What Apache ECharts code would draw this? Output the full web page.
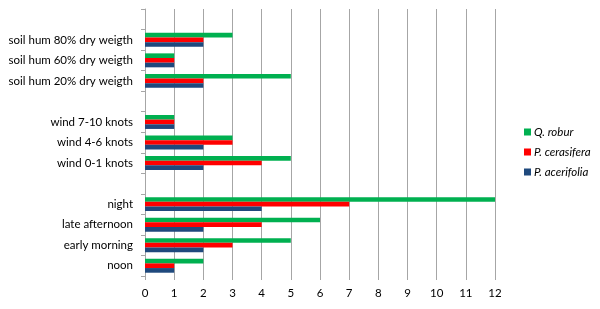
<!DOCTYPE html>
<html><head><meta charset="utf-8">
<script src="https://cdn.jsdelivr.net/npm/echarts@6/dist/echarts.min.js"></script>
<style>html,body{margin:0;padding:0;background:#fff}#c{width:600px;height:309px}</style>
</head><body><div id="c"></div>
<script>
const categories = ['noon','early morning','late afternoon','night','','wind 0-1 knots','wind 4-6 knots','wind 7-10 knots',' ','soil hum 20% dry weigth','soil hum 60% dry weigth','soil hum 80% dry weigth','  '];
const acerifolia = [1,2,2,4,null,2,2,1,null,2,1,2,null];
const cerasifera = [1,3,4,7,null,4,3,1,null,2,1,2,null];
const robur      = [2,5,6,12,null,5,3,1,null,5,1,3,null];
const xTicks = [0,12,1];
const font = 'Lato, "Open Sans", sans-serif';
const chart = echarts.init(document.getElementById('c'));
chart.setOption({
  animation:false,
  grid:{left:145,right:105,top:9,bottom:33,containLabel:false},
  legend:{orient:'vertical',left:519,top:121,itemWidth:7,itemHeight:7,itemGap:8,icon:'rect',
    data:['Q. robur','P. cerasifera','P. acerifolia'],
    textStyle:{fontFamily:font,fontSize:11.5,fontStyle:'italic',color:'#000',padding:[0,0,0,-2]}},
  xAxis:{type:'value',min:xTicks[0],max:xTicks[1],interval:xTicks[2],
    axisLine:{show:false},axisTick:{show:true,length:4,lineStyle:{color:'#a6a6a6'}},
    splitLine:{show:true,lineStyle:{color:'#a6a6a6',width:1}},
    axisLabel:{fontFamily:font,fontSize:11.5,color:'#000',margin:11}},
  yAxis:{type:'category',data:categories,
    axisLine:{show:true,lineStyle:{color:'#a6a6a6'}},
    axisTick:{show:true,length:4,lineStyle:{color:'#a6a6a6'}},
    axisLabel:{fontFamily:font,fontSize:11.5,color:'#000',margin:12}},
  series:[
    {name:'Q. robur',type:'bar',data:robur,barGap:'0%',barCategoryGap:'32%',itemStyle:{color:'#00b050'}},
    {name:'P. cerasifera',type:'bar',data:cerasifera,barGap:'0%',barCategoryGap:'32%',itemStyle:{color:'#ff0000'}},
    {name:'P. acerifolia',type:'bar',data:acerifolia,barGap:'0%',barCategoryGap:'32%',itemStyle:{color:'#1f497d'}}
  ]
});
</script></body></html>
